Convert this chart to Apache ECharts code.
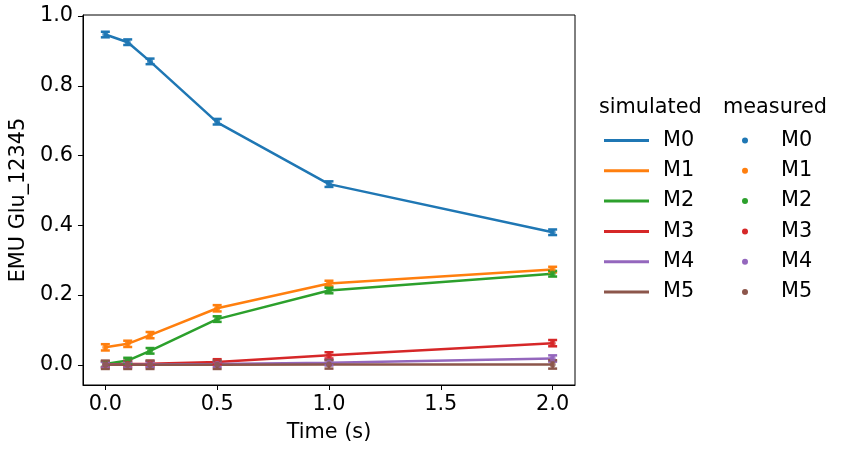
<!DOCTYPE html>
<html>
<head>
<meta charset="utf-8">
<script src="https://cdn.jsdelivr.net/npm/echarts@6/dist/echarts.min.js"></script>
<style>
  html, body { margin: 0; padding: 0; background: #fff; }
  #chart { width: 844px; height: 450px; }
</style>
</head>
<body>
<div id="chart"></div>
<script>
// time points (s)
const times = [0, 0.1, 0.2, 0.5, 1.0, 2.0];
const isotopes = ['M0', 'M1', 'M2', 'M3', 'M4', 'M5'];
const colors = ['#1f77b4', '#ff7f0e', '#2ca02c', '#d62728', '#9467bd', '#8c564b'];

// simulated EMU fractions
const simM0 = [0.947, 0.925, 0.870, 0.695, 0.518, 0.380];
const simM1 = [0.050, 0.060, 0.085, 0.162, 0.233, 0.273];
const simM2 = [0.002, 0.012, 0.040, 0.131, 0.213, 0.261];
const simM3 = [0.001, 0.002, 0.003, 0.008, 0.027, 0.062];
const simM4 = [0.000, 0.000, 0.001, 0.002, 0.006, 0.018];
const simM5 = [0.000, 0.000, 0.000, 0.000, 0.001, 0.001];

// measured EMU fractions and their errors
const measM0 = [0.947, 0.925, 0.870, 0.697, 0.518, 0.380];
const measM1 = [0.050, 0.060, 0.085, 0.162, 0.233, 0.273];
const measM2 = [0.002, 0.012, 0.040, 0.131, 0.213, 0.261];
const measM3 = [0.001, 0.002, 0.003, 0.008, 0.027, 0.062];
const measM4 = [0.000, 0.000, 0.001, 0.002, 0.006, 0.018];
const measM5 = [0.000, 0.000, 0.000, 0.000, 0.001, 0.001];
const errM0 = [0.008, 0.008, 0.008, 0.008, 0.008, 0.008];
const errM1 = [0.009, 0.009, 0.009, 0.009, 0.008, 0.008];
const errM2 = [0.008, 0.008, 0.008, 0.008, 0.008, 0.008];
const errM3 = [0.008, 0.008, 0.008, 0.008, 0.009, 0.009];
const errM4 = [0.008, 0.008, 0.008, 0.008, 0.008, 0.009];
const errM5 = [0.012, 0.012, 0.012, 0.012, 0.012, 0.012];

const simulated = [simM0, simM1, simM2, simM3, simM4, simM5];
const measured = [measM0, measM1, measM2, measM3, measM4, measM5];
const errors = [errM0, errM1, errM2, errM3, errM4, errM5];

const FONT = 'DejaVu Sans';
const FS = 20.8;

var chart = echarts.init(document.getElementById('chart'));

function errorBarItem (params, api) {
  var x = api.value(0);
  var lo = api.coord([x, api.value(1) - api.value(2)]);
  var hi = api.coord([x, api.value(1) + api.value(2)]);
  var half = 4.5;
  var style = { stroke: api.visual('color'), lineWidth: 2.5 };
  return {
    type: 'group',
    children: [
      { type: 'line', shape: { x1: lo[0], y1: lo[1], x2: hi[0], y2: hi[1] }, style: style },
      { type: 'line', shape: { x1: lo[0] - half, y1: lo[1], x2: lo[0] + half, y2: lo[1] }, style: style },
      { type: 'line', shape: { x1: hi[0] - half, y1: hi[1], x2: hi[0] + half, y2: hi[1] }, style: style }
    ]
  };
}

var series = [];
isotopes.forEach(function (name, i) {
  series.push({
    name: name,
    type: 'line',
    data: times.map(function (t, j) { return [t, simulated[i][j]]; }),
    showSymbol: false,
    lineStyle: { width: 2.5, color: colors[i] },
    itemStyle: { color: colors[i] },
    z: 2
  });
});
isotopes.forEach(function (name, i) {
  series.push({
    name: name,
    type: 'custom',
    renderItem: errorBarItem,
    data: times.map(function (t, j) { return [t, measured[i][j], errors[i][j]]; }),
    itemStyle: { color: colors[i] },
    z: 3
  });
  series.push({
    name: name,
    type: 'scatter',
    data: times.map(function (t, j) { return [t, measured[i][j]]; }),
    symbolSize: 6,
    itemStyle: { color: colors[i] },
    z: 4
  });
});

chart.setOption({
  animation: false,
  textStyle: { fontFamily: FONT },
  grid: {
    left: 80,
    right: 269,
    top: 15,
    bottom: 65,
    show: true,
    borderColor: '#000',
    borderWidth: 1
  },
  xAxis: {
    type: 'value',
    min: -0.1,
    max: 2.1,
    name: 'Time (s)',
    nameLocation: 'middle',
    nameGap: 37,
    nameTextStyle: { fontSize: FS, color: '#000', fontFamily: FONT },
    splitLine: { show: false },
    axisLine: { onZero: false, lineStyle: { color: '#000', width: 1 } },
    axisTick: { length: 5, lineStyle: { color: '#000' }, customValues: [0, 0.5, 1.0, 1.5, 2.0] },
    axisLabel: {
      fontSize: FS, color: '#000', margin: 9, fontFamily: FONT,
      customValues: [0, 0.5, 1.0, 1.5, 2.0],
      formatter: function (v) { return v.toFixed(1); }
    }
  },
  yAxis: {
    type: 'value',
    min: -0.058,
    max: 1.003,
    name: 'EMU Glu_12345',
    nameLocation: 'middle',
    nameRotate: 90,
    nameGap: 52,
    nameTextStyle: { fontSize: FS, color: '#000', fontFamily: FONT },
    splitLine: { show: false },
    axisLine: { show: true, onZero: false, lineStyle: { color: '#000', width: 1 } },
    axisTick: { show: true, length: 5, lineStyle: { color: '#000' }, customValues: [0, 0.2, 0.4, 0.6, 0.8, 1.0] },
    axisLabel: {
      fontSize: FS, color: '#000', margin: 10, fontFamily: FONT,
      customValues: [0, 0.2, 0.4, 0.6, 0.8, 1.0],
      formatter: function (v) { return v.toFixed(1); }
    }
  },
  legend: [
    {
      orient: 'vertical',
      left: 604,
      top: 130,
      padding: 0,
      itemWidth: 45,
      itemHeight: 3,
      itemGap: 9.3,
      selectedMode: false,
      icon: 'rect',
      textStyle: { fontSize: FS, color: '#000', fontFamily: FONT, lineHeight: 20.3, padding: [0, 0, 0, 9] },
      data: isotopes.map(function (n) { return { name: n, icon: 'rect' }; })
    },
    {
      orient: 'vertical',
      left: 742,
      top: 130,
      padding: 0,
      itemWidth: 20,
      itemHeight: 6,
      itemGap: 9.3,
      selectedMode: false,
      textStyle: { fontSize: FS, color: '#000', fontFamily: FONT, lineHeight: 20.3, padding: [0, 0, 0, 21] },
      data: isotopes.map(function (n) { return { name: n, icon: 'circle' }; })
    }
  ],
  graphic: [
    { type: 'text', left: 599, top: 97, style: { text: 'simulated', fontSize: FS, fill: '#000', fontFamily: FONT } },
    { type: 'text', left: 723, top: 97, style: { text: 'measured', fontSize: FS, fill: '#000', fontFamily: FONT } }
  ],
  series: series
});
</script>
</body>
</html>
